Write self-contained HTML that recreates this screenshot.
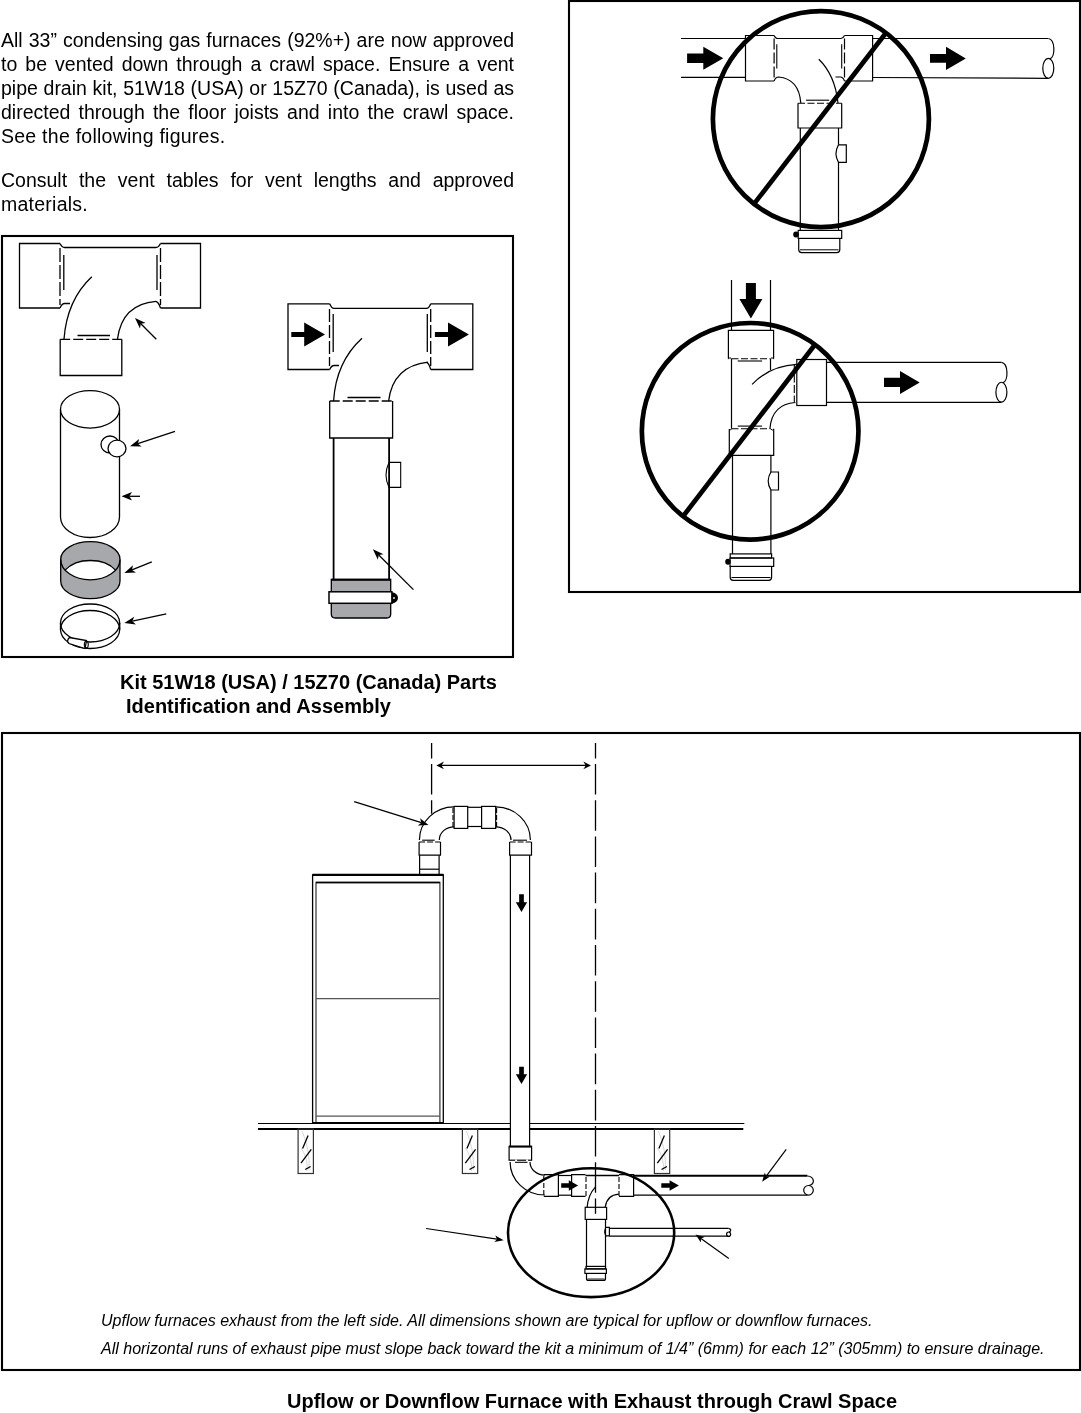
<!DOCTYPE html>
<html><head><meta charset="utf-8">
<style>
html,body{margin:0;padding:0;background:#fff;}
body{width:1081px;height:1413px;position:relative;overflow:hidden;font-family:"Liberation Sans",sans-serif;color:#000;}
.ln{position:absolute;white-space:nowrap;transform-origin:0 0;will-change:transform;}
.pj{font-size:19.5px;line-height:24px;text-align:justify;text-align-last:justify;}
.pl{font-size:19.5px;line-height:24px;letter-spacing:0.25px;}
.cap{font-weight:bold;font-size:20px;line-height:24px;}
.it{font-style:italic;font-size:16px;line-height:20px;}
svg{position:absolute;left:0;top:0;}
</style></head><body>

<div class="ln pj" style="left:1px;top:27.74px;width:513px">All 33” condensing gas furnaces (92%+) are now approved</div>
<div class="ln pj" style="left:1px;top:51.74px;width:513px">to be vented down through a crawl space. Ensure a vent</div>
<div class="ln pj" style="left:1px;top:75.74px;width:513px">pipe drain kit, 51W18 (USA) or 15Z70 (Canada), is used as</div>
<div class="ln pj" style="left:1px;top:99.74px;width:513px">directed through the floor joists and into the crawl space.</div>
<div class="ln pl" style="left:1px;top:123.74px;width:513px">See the following figures.</div>
<div class="ln pj" style="left:1px;top:167.74px;width:513px">Consult the vent tables for vent lengths and approved</div>
<div class="ln pl" style="left:1px;top:191.74px;width:513px">materials.</div>
<div class="ln cap" style="left:120px;top:669.57px">Kit 51W18 (USA) / 15Z70 (Canada) Parts</div>
<div class="ln cap" style="left:125.5px;top:693.57px">Identification and Assembly</div>
<div class="ln cap" style="left:286.5px;top:1388.57px">Upflow or Downflow Furnace with Exhaust through Crawl Space</div>
<div class="ln it" style="left:100.5px;top:1311.46px">Upflow furnaces exhaust from the left side. All dimensions shown are typical for upflow or downflow furnaces.</div>
<div class="ln it" style="left:100.5px;top:1339.46px">All horizontal runs of exhaust pipe must slope back toward the kit a minimum of 1/4” (6mm) for each 12” (305mm) to ensure drainage.</div>
<svg width="1081" height="1413" viewBox="0 0 1081 1413" fill="none" stroke="#000" stroke-width="1.3" stroke-linecap="butt">
<rect x="2" y="236" width="511" height="421" stroke-width="2.1"/>
<rect x="569" y="1" width="511" height="591" stroke-width="2.1"/>
<rect x="2" y="733" width="1078" height="637" stroke-width="2.1"/>
<g stroke-width="1.3">
<path d="M60,243.5 L19.5,243.5 L19.5,308 L60,308"/>
<path d="M160.5,243.5 L200.5,243.5 L200.5,308 L160.5,308"/>
<path d="M60,243.5 Q62,247.5 64.5,247.5 L156,247.5 Q158.5,247.5 160.5,243.5"/>
<path d="M60,308 Q62,303.5 64.5,303.5 L70,303.5"/>
<path d="M160.5,308 Q158.5,302 156,301.5"/>
<line x1="60" y1="248" x2="60" y2="305" stroke-dasharray="14,3"/>
<line x1="63.8" y1="255" x2="63.8" y2="290"/>
<line x1="160.5" y1="248" x2="160.5" y2="305" stroke-dasharray="14,3"/>
<line x1="157" y1="255" x2="157" y2="290"/>
<path d="M91.8,276.8 Q67,300 64,339"/>
<path d="M156,301.3 Q122,304 117.5,339"/>
<path d="M60.2,339.3 L60.2,375.5 L121.8,375.5 L121.8,339.3"/>
<line x1="60.2" y1="339.3" x2="121.8" y2="339.3" stroke-dasharray="10,3"/>
<line x1="77.5" y1="335.5" x2="110" y2="335.5"/>
</g>
<line x1="156.30" y1="339.30" x2="140.83" y2="323.83" stroke-width="1.3"/><path d="M135.00,318.00 L145.61,322.95 L140.83,323.83 L139.95,328.61 Z" fill="#000" stroke="none"/>
<path d="M60.5,409.3 L60.5,517 A29.5,20.5 0 0 0 119.5,517 L119.5,409.3"/>
<ellipse cx="90" cy="409.3" rx="29.5" ry="18.75" fill="#fff"/>
<ellipse cx="110" cy="444.5" rx="9" ry="8.5" fill="#fff"/>
<ellipse cx="117" cy="448.5" rx="9" ry="8.3" fill="#fff"/>
<line x1="175.00" y1="431.30" x2="137.83" y2="443.69" stroke-width="1.3"/><path d="M130.00,446.30 L139.17,439.03 L137.83,443.69 L141.70,446.62 Z" fill="#000" stroke="none"/>
<line x1="140.00" y1="496.30" x2="129.38" y2="496.30" stroke-width="1.3"/><path d="M121.50,496.30 L132.00,492.10 L129.38,496.30 L132.00,500.50 Z" fill="#000" stroke="none"/>
<path d="M60.7,559.4 A29.65,17.7 0 0 1 120,559.4 L120,580.9 A29.65,17.8 0 0 1 60.7,580.9 Z" fill="#a7a8ab"/>
<path d="M65.15,570.15 A29.65,20.4 0 0 1 115.55,570.15 A29.65,20.4 0 0 1 65.15,570.15 Z" fill="#fff" stroke="none"/>
<path d="M60.7,559.4 A29.65,20.4 0 0 0 120,559.4"/>
<path d="M65.15,570.15 A29.65,20.4 0 0 1 115.55,570.15"/>
<line x1="151.80" y1="561.80" x2="131.94" y2="569.89" stroke-width="1.3"/><path d="M124.30,573.00 L132.98,565.15 L131.94,569.89 L136.00,572.56 Z" fill="#000" stroke="none"/>
<path d="M60.5,623 L60.5,629.5 A29.6,19 0 0 0 119.7,629.5 L119.7,623"/>
<ellipse cx="90.1" cy="623" rx="29.6" ry="19"/>
<path d="M60.5,629.5 A29.6,19 0 0 1 119.7,629.5"/>
<path d="M69.5,637.5 Q66,641 69,643.5 L85,648.5 L86.5,640.5 Z" fill="#fff"/>
<ellipse cx="86.3" cy="644.5" rx="2" ry="3.3" stroke-width="1.1"/>
<line x1="166.30" y1="613.80" x2="132.36" y2="621.23" stroke-width="1.3"/><path d="M124.30,623.00 L134.19,616.74 L132.36,621.23 L135.90,624.55 Z" fill="#000" stroke="none"/>
<g stroke-width="1.3">
<path d="M329.7,303.8 L288,303.8 L288,369.5 L329.7,369.5"/>
<path d="M430.7,303.8 L472.8,303.8 L472.8,369.5 L430.7,369.5"/>
<path d="M329.7,303.8 Q331.5,308.4 334,308.4 L426.5,308.4 Q429,308.4 430.7,303.8"/>
<path d="M329.7,369.5 Q331.5,365.5 334,365.5 L339,365.5"/>
<path d="M430.7,369.5 Q429,363 426.5,362.3"/>
<line x1="329.5" y1="309" x2="329.5" y2="366" stroke-dasharray="13,3"/>
<line x1="333.2" y1="314" x2="333.2" y2="352"/>
<line x1="430.7" y1="309" x2="430.7" y2="366" stroke-dasharray="13,3"/>
<line x1="427.3" y1="314" x2="427.3" y2="352"/>
<path d="M362,338.3 Q336,362 333.6,401"/>
<path d="M428,362.1 Q393,366 388.6,401"/>
<path d="M329.7,401 L329.7,438 L392.6,438 L392.6,401"/>
<line x1="329.7" y1="401" x2="392.6" y2="401" stroke-dasharray="10,3"/>
<line x1="347.5" y1="397.5" x2="380.5" y2="397.5"/>
</g>
<path d="M291.3,331.9 L304.2,331.9 L304.2,322.5 L325,334.5 L304.2,346.5 L304.2,337.1 L291.3,337.1 Z" fill="#000" stroke="none"/>
<path d="M434.9,331.9 L448,331.9 L448,322.5 L468.9,334.5 L448,346.5 L448,337.1 L434.9,337.1 Z" fill="#000" stroke="none"/>
<line x1="333.6" y1="438" x2="333.6" y2="579.5" stroke-width="1.8"/>
<line x1="389.1" y1="438" x2="389.1" y2="579.5" stroke-width="1.8"/>
<path d="M389,462.4 L400.7,462.4 L400.7,487.4 L389,487.4 Q383,475 389,462.4" stroke-width="1.1"/>
<path d="M331.3,579.5 L390.7,579.5 L390.7,614 Q390.7,618 386.7,618 L335.3,618 Q331.3,618 331.3,614 Z" fill="#a7a8ab" stroke-width="1.3"/>
<line x1="331.3" y1="579.8" x2="390.7" y2="579.8" stroke-width="2"/>
<rect x="329" y="591.8" width="62.9" height="11.5" fill="#fff" stroke-width="1.5"/>
<path d="M391.8,592.3 A6.2,5.6 0 0 1 391.8,603.5 Z" fill="#000" stroke="none"/>
<rect x="393.2" y="597.2" width="1.6" height="1.6" fill="#fff" stroke="none"/>
<line x1="413.40" y1="589.60" x2="378.74" y2="555.03" stroke-width="1.3"/><path d="M372.90,549.20 L383.51,554.14 L378.74,555.03 L377.86,559.80 Z" fill="#000" stroke="none"/>
<g stroke-width="1.2">
<line x1="681" y1="38.5" x2="745.5" y2="38.5"/>
<line x1="681" y1="77.3" x2="745.5" y2="77.3"/>
<line x1="872.6" y1="38.5" x2="1048" y2="38.5"/>
<line x1="872.6" y1="77.5" x2="1048" y2="78.3"/>
<path d="M1048.3,38.5 C1055.45,39.5 1055.45,57.39999999999999 1049.8,58.89999999999999"/><ellipse cx="1048.3" cy="68.35" rx="5.5" ry="9.95"/>
<path d="M774.1,35.5 L745.5,35.5 L745.5,81 L774.1,81"/>
<path d="M844.5,35.5 L872.6,35.5 L872.6,81 L844.5,81"/>
<path d="M774.1,35.5 Q775.5,38.5 777.5,38.5 L841,38.5 Q843,38.5 844.5,35.5"/>
<line x1="774.1" y1="38.5" x2="774.1" y2="78" stroke-dasharray="11,3" stroke-width="1.2"/>
<line x1="776.8" y1="44.3" x2="776.8" y2="68.6" stroke-width="1.1"/>
<line x1="844.5" y1="38.5" x2="844.5" y2="78" stroke-dasharray="11,3" stroke-width="1.2"/>
<line x1="841.7" y1="44.3" x2="841.7" y2="68.6" stroke-width="1.1"/>
<path d="M774.1,81 Q775.5,77 778.6,77 Q799,79 800.8,103"/>
<path d="M818.8,59.3 Q835,75 838,103"/>
<path d="M844.5,81 Q843,77 840.5,77 L835.5,77"/>
<path d="M798,103.25 L798,128 L841.7,128 L841.7,103.25"/>
<line x1="798" y1="103.25" x2="841.7" y2="103.25" stroke-dasharray="7,2.5" stroke-width="1.1"/>
<line x1="806" y1="100.2" x2="829.2" y2="100.2" stroke-width="1.1"/>
<line x1="800.3" y1="128" x2="800.3" y2="230.4"/>
<line x1="838.5" y1="128" x2="838.5" y2="144.8"/>
<line x1="838.5" y1="162.4" x2="838.5" y2="230.4"/>
<path d="M838.5,144.8 L846.3,144.8 L846.3,162.4 L838.5,162.4 Q833.5,153.6 838.5,144.8"/>
<rect x="798.2" y="230.4" width="43.5" height="8" fill="#fff"/>
<path d="M798.7,238.4 L798.7,249.6 Q798.7,252.6 801.7,252.6 L836.8,252.6 Q839.8,252.6 839.8,249.6 L839.8,238.4"/>
<line x1="800" y1="249.8" x2="838.5" y2="249.8" stroke-width="1"/>
<ellipse cx="796" cy="234.5" rx="2.8" ry="3" fill="#000" stroke="none"/>
<path d="M687.1,53.5 L703.3,53.5 L703.3,46.7 L723.3,58.2 L703.3,69.7 L703.3,62.900000000000006 L687.1,62.900000000000006 Z" fill="#000" stroke="none"/>
<path d="M930,54.0 L946,54.0 L946,46.8 L965.8,58.4 L946,70.0 L946,62.8 L930,62.8 Z" fill="#000" stroke="none"/>
<line x1="731.5" y1="280" x2="731.5" y2="330.4"/>
<line x1="770.5" y1="280" x2="770.5" y2="330.4"/>
<path d="M745.9,282.9 L755.9,282.9 L755.9,298.9 L762.4,298.9 L750.9,318.4 L739.4,298.9 L745.9,298.9 Z" fill="#000" stroke="none"/>
<path d="M728.4,358.8 L728.4,330.4 L773.6,330.4 L773.6,358.8"/>
<path d="M728.4,358.8 Q730,356.5 731.5,358.8 M773.6,358.8 Q772,356.5 770.5,358.8" stroke-width="1"/>
<line x1="731.5" y1="358.8" x2="731.5" y2="428.7"/>
<line x1="770.5" y1="358.8" x2="770.5" y2="370"/>
<line x1="731.5" y1="358.8" x2="770.5" y2="358.8" stroke-dasharray="7,2.5" stroke-width="1.1"/>
<line x1="737.7" y1="361" x2="762.1" y2="361" stroke-width="1.1"/>
<path d="M752.1,384.3 Q770,366 796.5,364.4"/>
<path d="M795.4,402.5 Q772,404 769.9,428.7"/>
<line x1="731.5" y1="428.7" x2="770.5" y2="428.7" stroke-dasharray="7,2.5" stroke-width="1.1"/>
<line x1="737.7" y1="426.1" x2="762.1" y2="426.1" stroke-width="1.1"/>
<rect x="796.8" y="359.5" width="29.7" height="46"/>
<line x1="794.3" y1="364" x2="794.3" y2="402" stroke-dasharray="8,2.5" stroke-width="1.1"/>
<line x1="826.5" y1="362.3" x2="1001.4" y2="362.3"/>
<line x1="826.5" y1="402.3" x2="1001.4" y2="402.3"/>
<path d="M1001.4,362.3 C1008.55,363.3 1008.55,381.25 1002.9,382.75"/><ellipse cx="1001.4" cy="392.225" rx="5.5" ry="9.974999999999994"/>
<path d="M884,377.7 L900,377.7 L900,370.9 L919.7,382.4 L900,393.9 L900,387.09999999999997 L884,387.09999999999997 Z" fill="#000" stroke="none"/>
<path d="M729.3,429 L729.3,455.4 L773.7,455.4 L773.7,429"/>
<path d="M729.3,429 Q730.5,431.5 731.5,428.7 M773.7,429 Q772.5,431.5 770.5,428.7" stroke-width="1"/>
<line x1="732.5" y1="455.4" x2="732.5" y2="553.9"/>
<line x1="770.9" y1="455.4" x2="770.9" y2="472"/>
<line x1="770.9" y1="490" x2="770.9" y2="553.9"/>
<path d="M770.9,472 L778.5,472 L778.5,490 L770.9,490 Q765.5,481 770.9,472"/>
<rect x="730.2" y="553.9" width="41.4" height="4.1"/>
<rect x="730" y="558" width="43.7" height="8.4"/>
<path d="M730.2,566.4 L730.2,577.3 Q730.2,580.3 733.2,580.3 L768.6,580.3 Q771.6,580.3 771.6,577.3 L771.6,566.4"/>
<line x1="731.5" y1="577.5" x2="770.5" y2="577.5" stroke-width="1"/>
<ellipse cx="728" cy="561.8" rx="2.8" ry="3" fill="#000" stroke="none"/>
</g>
<circle cx="820.9" cy="119.1" r="108" stroke-width="4.7"/>
<line x1="885.5" y1="33.5" x2="755.2" y2="202.4" stroke-width="4.7"/>
<circle cx="750.15" cy="431.3" r="108.3" stroke-width="4.7"/>
<line x1="814.3" y1="345.5" x2="683.5" y2="515.7" stroke-width="4.7"/>
<g stroke-width="1.2">
<line x1="431.6" y1="743" x2="431.6" y2="813.8" stroke-dasharray="30.6,5.6" stroke-dashoffset="15.2" stroke-width="1.3"/>
<line x1="595.5" y1="743" x2="595.5" y2="1213.8" stroke-dasharray="30.6,5.6" stroke-dashoffset="15.2" stroke-width="1.3"/>
<line x1="440" y1="765.4" x2="587" y2="765.4" stroke-width="1.3"/>
<path d="M436.3,765.4 L444,761.6 L441.5,765.4 L444,769.2 Z" fill="#000" stroke="none"/>
<path d="M591,765.4 L583.3,761.6 L585.8,765.4 L583.3,769.2 Z" fill="#000" stroke="none"/>
<line x1="354.20" y1="801.60" x2="421.34" y2="822.66" stroke-width="1.2"/><path d="M428.50,824.90 L417.82,825.53 L421.34,822.66 L420.10,818.28 Z" fill="#000" stroke="none"/>
<path d="M419.4,840 A34.7,33.1 0 0 1 454.1,806.9"/>
<path d="M439.3,840 A14.8,13.2 0 0 1 454.1,826.8"/>
<rect x="454.1" y="806.4" width="13.6" height="22"/>
<line x1="453" y1="808" x2="453" y2="827" stroke-dasharray="5,2" stroke-width="1.1"/>
<line x1="467.7" y1="807.3" x2="481.6" y2="807.3"/>
<line x1="467.7" y1="826.5" x2="481.6" y2="826.5"/>
<rect x="481.6" y="806.4" width="14.1" height="22"/>
<line x1="496.6" y1="808" x2="496.6" y2="827" stroke-dasharray="5,2" stroke-width="1.1"/>
<path d="M495.7,806.9 A34.7,33.1 0 0 1 530.4,840"/>
<path d="M495.7,826.8 A15.3,13.2 0 0 1 511,840"/>
<path d="M419.1,842 L419.1,855.2 L440.5,855.2 L440.5,842"/>
<line x1="419.1" y1="842" x2="440.5" y2="842" stroke-dasharray="6,2" stroke-width="1.1"/>
<line x1="422.2" y1="840.2" x2="434.7" y2="840.2" stroke-width="1.1"/>
<line x1="419.6" y1="855.2" x2="419.6" y2="874.8"/>
<line x1="439.1" y1="855.2" x2="439.1" y2="874.8"/>
<line x1="419.6" y1="869.2" x2="439.1" y2="869.2"/>
<path d="M509.6,842 L509.6,855.2 L531.5,855.2 L531.5,842"/>
<line x1="509.6" y1="842" x2="531.5" y2="842" stroke-dasharray="6,2" stroke-width="1.1"/>
<line x1="513" y1="840.2" x2="527" y2="840.2" stroke-width="1.1"/>
<line x1="510.4" y1="855.2" x2="510.4" y2="1146.4"/>
<line x1="529.6" y1="855.2" x2="529.6" y2="1146.4"/>
<path d="M519.15,894.2 L523.85,894.2 L523.85,902.2 L527.15,902.2 L521.5,912 L515.85,902.2 L519.15,902.2 Z" fill="#000" stroke="none"/>
<path d="M519.15,1066.7 L523.85,1066.7 L523.85,1074.2 L527.15,1074.2 L521.5,1084 L515.85,1074.2 L519.15,1074.2 Z" fill="#000" stroke="none"/>
<rect x="312.6" y="874.8" width="130.7" height="248.5" stroke-width="1.3"/>
<line x1="312.6" y1="874.8" x2="443.3" y2="874.8" stroke-width="2.2"/>
<path d="M316,1123 L316,882.5 L439.9,882.5 L439.9,1123" stroke="#444" stroke-width="1.3"/>
<line x1="316" y1="882.5" x2="439.9" y2="882.5" stroke-width="1.4"/>
<line x1="316" y1="998.6" x2="439.9" y2="998.6" stroke="#555" stroke-width="1.3"/>
<line x1="316" y1="1116.2" x2="439.9" y2="1116.2" stroke="#555" stroke-width="1.3"/>
<line x1="312.6" y1="1122.8" x2="443.3" y2="1122.8" stroke-width="1.8"/>
<line x1="258" y1="1123.5" x2="510.4" y2="1123.5" stroke-width="1.2"/>
<line x1="529.6" y1="1123.5" x2="744.3" y2="1123.5" stroke-width="1.2"/>
<line x1="258" y1="1129" x2="510.4" y2="1129" stroke-width="2.2"/>
<line x1="529.6" y1="1129" x2="743.3" y2="1129" stroke-width="2.2"/>
<rect x="298.1" y="1129" width="15.3" height="44.5" stroke="#333" stroke-width="1.2"/>
<path d="M302.1,1131 Q310.1,1150 309.1,1170 M301.1,1148 Q308.1,1158 307.1,1171" stroke="#ccc" stroke-width="0.8"/>
<line x1="308.1" y1="1135.5" x2="302.6" y2="1148.4" stroke-width="1.3"/>
<line x1="311.3" y1="1149.4" x2="301.0" y2="1163.2" stroke-width="1.3"/>
<line x1="305.20000000000005" y1="1169.5" x2="310.6" y2="1166.5" stroke-width="1.3"/>
<rect x="462.4" y="1129" width="15.3" height="44.5" stroke="#333" stroke-width="1.2"/>
<path d="M466.4,1131 Q474.4,1150 473.4,1170 M465.4,1148 Q472.4,1158 471.4,1171" stroke="#ccc" stroke-width="0.8"/>
<line x1="472.4" y1="1135.5" x2="466.9" y2="1148.4" stroke-width="1.3"/>
<line x1="475.59999999999997" y1="1149.4" x2="465.29999999999995" y2="1163.2" stroke-width="1.3"/>
<line x1="469.5" y1="1169.5" x2="474.9" y2="1166.5" stroke-width="1.3"/>
<rect x="654.4" y="1129" width="15.3" height="44.5" stroke="#333" stroke-width="1.2"/>
<path d="M658.4,1131 Q666.4,1150 665.4,1170 M657.4,1148 Q664.4,1158 663.4,1171" stroke="#ccc" stroke-width="0.8"/>
<line x1="664.4" y1="1135.5" x2="658.9" y2="1148.4" stroke-width="1.3"/>
<line x1="667.6" y1="1149.4" x2="657.3" y2="1163.2" stroke-width="1.3"/>
<line x1="661.5" y1="1169.5" x2="666.9" y2="1166.5" stroke-width="1.3"/>
<rect x="509.1" y="1146.4" width="22.5" height="13.8" fill="#fff"/>
<line x1="509.1" y1="1146.6" x2="531.6" y2="1146.6" stroke-width="2"/>
<line x1="509.1" y1="1160.2" x2="531.6" y2="1160.2" stroke="#fff" stroke-width="1.4" stroke-dasharray="0,6,2,3"/>
<line x1="515" y1="1162.3" x2="527.5" y2="1162.3" stroke-width="1.1"/>
<path d="M510.1,1162 A34.7,33 0 0 0 544.8,1195"/>
<path d="M530,1162 A14.8,13 0 0 0 544.8,1175.1"/>
<path d="M543.8,1174.7 L558.4,1174.7 L558.4,1196.3 L543.8,1196.3"/>
<line x1="543.8" y1="1176" x2="543.8" y2="1196" stroke-dasharray="5,2" stroke-width="1.1"/>
<line x1="558.4" y1="1175.5" x2="571.6" y2="1175.5"/>
<line x1="558.4" y1="1195.2" x2="571.6" y2="1195.2"/>
<path d="M561.2,1183.2 L568.8,1183.2 L568.8,1180.2 L578.1,1185.5 L568.8,1190.8 L568.8,1187.8 L561.2,1187.8 Z" fill="#000" stroke="none"/>
<path d="M585.5,1174.7 L571.6,1174.7 L571.6,1196.3 L585.5,1196.3"/>
<line x1="585.5" y1="1175.5" x2="619" y2="1175.5" stroke-width="1.6"/>
<line x1="586" y1="1177" x2="586" y2="1196" stroke-dasharray="5,2" stroke-width="1.1"/>
<line x1="619" y1="1177" x2="619" y2="1196" stroke-dasharray="5,2" stroke-width="1.1"/>
<path d="M595.5,1186.9 Q588,1195 587.1,1207.7"/>
<path d="M618.8,1194.1 Q607,1195 605.2,1207"/>
<path d="M619,1174.7 L633.6,1174.7 L633.6,1196.3 L619,1196.3"/>
<line x1="633.6" y1="1175.8" x2="807.4" y2="1175.8" stroke-width="2"/>
<line x1="633.6" y1="1195.2" x2="807.4" y2="1195.2" stroke-width="1.3"/>
<path d="M661.3,1183.2 L669.6,1183.2 L669.6,1180.2 L678.9,1185.5 L669.6,1190.8 L669.6,1187.8 L661.3,1187.8 Z" fill="#000" stroke="none"/>
<path d="M807.4,1176 C814.5,1176.5 815.5,1184 809,1185.5"/>
<ellipse cx="808.5" cy="1190.3" rx="4.8" ry="4.8"/>
<line x1="786.20" y1="1149.40" x2="766.13" y2="1176.38" stroke-width="1.2"/><path d="M762.10,1181.80 L764.82,1172.61 L766.13,1176.38 L770.12,1176.55 Z" fill="#000" stroke="none"/>
<rect x="585.2" y="1207.3" width="21.4" height="12.1"/>
<line x1="586.5" y1="1219.4" x2="586.5" y2="1267.4"/>
<line x1="605.5" y1="1219.4" x2="605.5" y2="1267.4"/>
<rect x="586" y="1266.4" width="19.5" height="2.5"/>
<rect x="584.9" y="1268.9" width="21.5" height="4.5"/>
<path d="M586.5,1273.4 L586.5,1278.4 Q586.5,1280.4 588.5,1280.4 L603.5,1280.4 Q605.5,1280.4 605.5,1278.4 L605.5,1273.4"/>
<line x1="587.5" y1="1279" x2="604.5" y2="1279" stroke-width="0.9"/>
<path d="M609.4,1227.3 L606,1227.3 Q603.5,1231.6 606,1235.9 L609.4,1235.9 Z"/>
<line x1="609.4" y1="1228.4" x2="728.4" y2="1228.4"/>
<line x1="609.4" y1="1236.2" x2="728.4" y2="1236.2"/>
<path d="M728.4,1228.4 C731.5,1228.8 731.5,1231.5 729,1232"/>
<ellipse cx="728.6" cy="1234.2" rx="2" ry="2.2"/>
<line x1="728.80" y1="1258.60" x2="700.97" y2="1238.46" stroke-width="1.2"/><path d="M695.50,1234.50 L704.73,1237.10 L700.97,1238.46 L700.86,1242.45 Z" fill="#000" stroke="none"/>
<line x1="426.10" y1="1228.50" x2="497.03" y2="1239.19" stroke-width="1.2"/><path d="M503.70,1240.20 L494.31,1242.12 L497.03,1239.19 L495.29,1235.60 Z" fill="#000" stroke="none"/>
</g>
<ellipse cx="591.1" cy="1232.7" rx="83.1" ry="64.4" stroke-width="2.6"/>
</svg></body></html>
